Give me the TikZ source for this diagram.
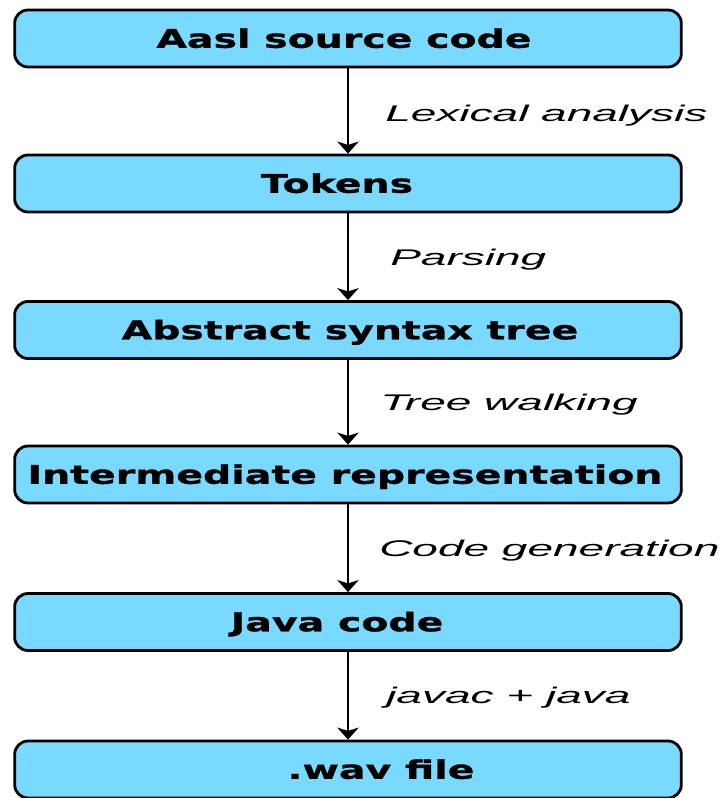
\documentclass[tikz,border=0pt]{standalone}
\usepackage{fontspec}
\usetikzlibrary{arrows.meta}
\newfontfamily\boxfont{DejaVu Sans}[FakeStretch=1.54,FakeBold=1.2]
\newfontfamily\labfont{Liberation Sans}[FakeStretch=2.03]
\definecolor{boxblue}{RGB}{122,217,254}
\begin{document}
\begin{tikzpicture}[x=0.75pt,y=-0.75pt,
  stagebox/.style={draw=black, fill=boxblue, line width=2.1pt, rounded corners=10pt,
    minimum width=500pt, minimum height=42.75pt, inner sep=0pt},
  stagetext/.style={inner sep=0pt, text height=13.9pt, text depth=0pt,
    font=\boxfont\bfseries\fontsize{19.2pt}{21pt}\selectfont},
  steplabel/.style={anchor=base west, inner sep=0pt, font=\labfont\itshape\fontsize{17pt}{18pt}\selectfont},
  flow/.style={line width=2.1pt, -{Stealth[length=9pt,width=16pt,inset=2.5pt]}}]
\useasboundingbox (0,0) rectangle (725,798);
\node[stagebox] (b1) at (348,38.5) {};
\node[stagebox] (b2) at (348,183.5) {};
\node[stagebox] (b3) at (348,330) {};
\node[stagebox] (b4) at (348,474.5) {};
\node[stagebox] (b5) at (348,622) {};
\node[stagebox] (b6) at (348,769.5) {};
\node[stagetext] (t1) at (344,38.5) {Aasl source code};
\node[stagetext] (t2) at (337,183.5) {Tokens};
\node[stagetext] (t3) at (350,330) {Abstract syntax tree};
\node[stagetext] (t4) at (345,474.5) {Intermediate representation};
\node[stagetext] (t5) at (337,622) {Java code};
\node[stagetext] (t6) at (381,769.5) {.wav file};
\draw[flow] (b1) -- (b2);
\draw[flow] (b2) -- (b3);
\draw[flow] (b3) -- (b4);
\draw[flow] (b4) -- (b5);
\draw[flow] (b5) -- (b6);
\node[steplabel] (l1) at (385,122) {Lexical analysis};
\node[steplabel] (l2) at (390,266) {Parsing};
\node[steplabel] (l3) at (380,410) {Tree walking};
\node[steplabel] (l4) at (379,556) {Code generation};
\node[steplabel] (l5) at (386,703) {javac + java};
\end{tikzpicture}
\end{document}
